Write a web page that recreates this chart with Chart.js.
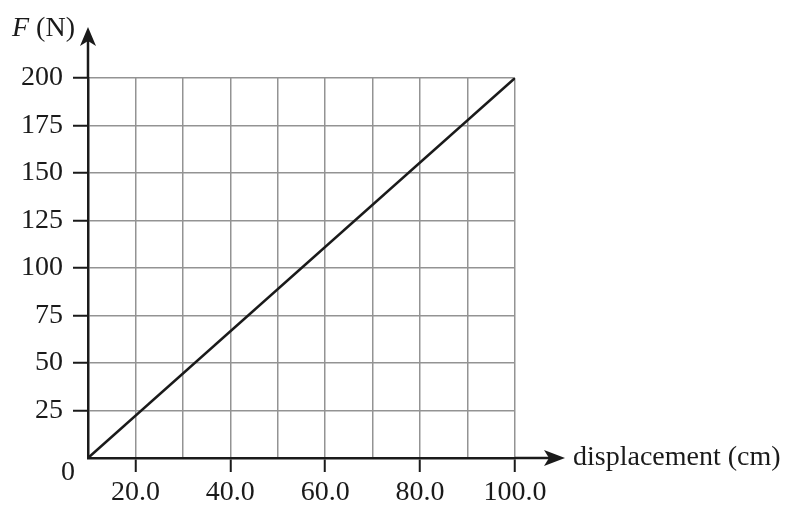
<!DOCTYPE html>
<html>
<head>
<meta charset="utf-8">
<script src="https://cdn.jsdelivr.net/npm/chart.js@4.4.0/dist/chart.umd.min.js"></script>
<style>
  body { margin: 0; background: #fff; }
  canvas { display: block; }
</style>
</head>
<body>
<canvas id="myChart" width="791" height="505"></canvas>
<script>
// data
const displacement = [10, 100];
const force = [0, 200];
const xLabelled = [20, 40, 60, 80, 100];
const yLabelled = [25, 50, 75, 100, 125, 150, 175, 200];
const xTitle = "displacement (cm)";
const yTitleItalic = "F";
const yTitleRest = " (N)";

const ink = "#1a1a1a";
const gridGray = "#939393";
const serif = "'Liberation Serif', 'DejaVu Serif', serif";
const fontSize = 28;

// arrows, origin label and axis titles
const axisExtras = {
  id: "axisExtras",
  afterDraw(chart) {
    const ctx = chart.ctx;
    const x0 = chart.scales.x.getPixelForValue(displacement[0]);
    const y0 = chart.scales.y.getPixelForValue(0);
    const area = chart.chartArea;
    ctx.save();
    ctx.strokeStyle = ink;
    ctx.fillStyle = ink;
    ctx.lineWidth = 2.5;

    // y axis extension + arrow
    const yTip = area.top - 51;
    ctx.beginPath();
    ctx.moveTo(x0, area.top);
    ctx.lineTo(x0, yTip + 10);
    ctx.stroke();
    ctx.beginPath();
    ctx.moveTo(x0, yTip);
    ctx.lineTo(x0 + 8, yTip + 19);
    ctx.lineTo(x0, yTip + 14);
    ctx.lineTo(x0 - 8, yTip + 19);
    ctx.closePath();
    ctx.fill();

    // x axis extension + arrow
    const xTip = area.right + 50;
    ctx.beginPath();
    ctx.moveTo(area.right, y0);
    ctx.lineTo(xTip - 10, y0);
    ctx.stroke();
    ctx.beginPath();
    ctx.moveTo(xTip, y0);
    ctx.lineTo(xTip - 21, y0 - 8);
    ctx.lineTo(xTip - 16, y0);
    ctx.lineTo(xTip - 21, y0 + 8);
    ctx.closePath();
    ctx.fill();

    // texts
    ctx.font = fontSize + "px " + serif;
    ctx.textBaseline = "middle";
    ctx.textAlign = "left";
    ctx.fillText(xTitle, xTip + 8, y0);

    ctx.textAlign = "center";
    ctx.fillText("0", x0 - 20, y0 + 15);

    ctx.textBaseline = "alphabetic";
    ctx.textAlign = "left";
    ctx.font = "italic " + fontSize + "px " + serif;
    ctx.fillText(yTitleItalic, 12, 36);
    const w = ctx.measureText(yTitleItalic).width;
    ctx.font = fontSize + "px " + serif;
    ctx.fillText(yTitleRest, 12 + w, 36);
    ctx.restore();
  },
};

const data = {
  datasets: [
    {
      data: displacement.map((d, i) => ({ x: d, y: force[i] })),
      borderColor: ink,
      borderWidth: 2.5,
      pointRadius: 0,
      fill: false,
    },
  ],
};

const config = {
  type: "line",
  data,
  options: {
    responsive: false,
    animation: false,
    layout: { padding: { top: 78, right: 276, left: 0, bottom: 0 } },
    plugins: { legend: { display: false }, tooltip: { enabled: false } },
    scales: {
      x: {
        type: "linear",
        min: 10,
        max: 100,
        afterFit(scale) { scale.height = 47; },
        ticks: {
          stepSize: 10,
          autoSkip: false,
          maxRotation: 0,
          padding: 4,
          color: ink,
          font: { family: serif, size: fontSize },
          callback: (v) => (xLabelled.includes(v) ? v.toFixed(1) : ""),
        },
        grid: {
          color: gridGray,
          lineWidth: 1.5,
          tickLength: 14,
          tickWidth: 2,
          tickColor: (c) => (c.tick && xLabelled.includes(c.tick.value) ? ink : "rgba(0,0,0,0)"),
        },
        border: { color: ink, width: 2.5 },
      },
      y: {
        min: 0,
        max: 200,
        afterFit(scale) { scale.width = 88; },
        ticks: {
          stepSize: 25,
          padding: 10,
          color: ink,
          font: { family: serif, size: fontSize },
          callback: (v) => (yLabelled.includes(v) ? String(v) : ""),
        },
        grid: {
          color: gridGray,
          lineWidth: 1.5,
          tickLength: 15,
          tickWidth: 2,
          tickColor: (c) => (c.tick && yLabelled.includes(c.tick.value) ? ink : "rgba(0,0,0,0)"),
        },
        border: { color: ink, width: 2.5 },
      },
    },
  },
  plugins: [axisExtras],
};

const myChart = new Chart(document.querySelector("#myChart"), config);
</script>
</body>
</html>
